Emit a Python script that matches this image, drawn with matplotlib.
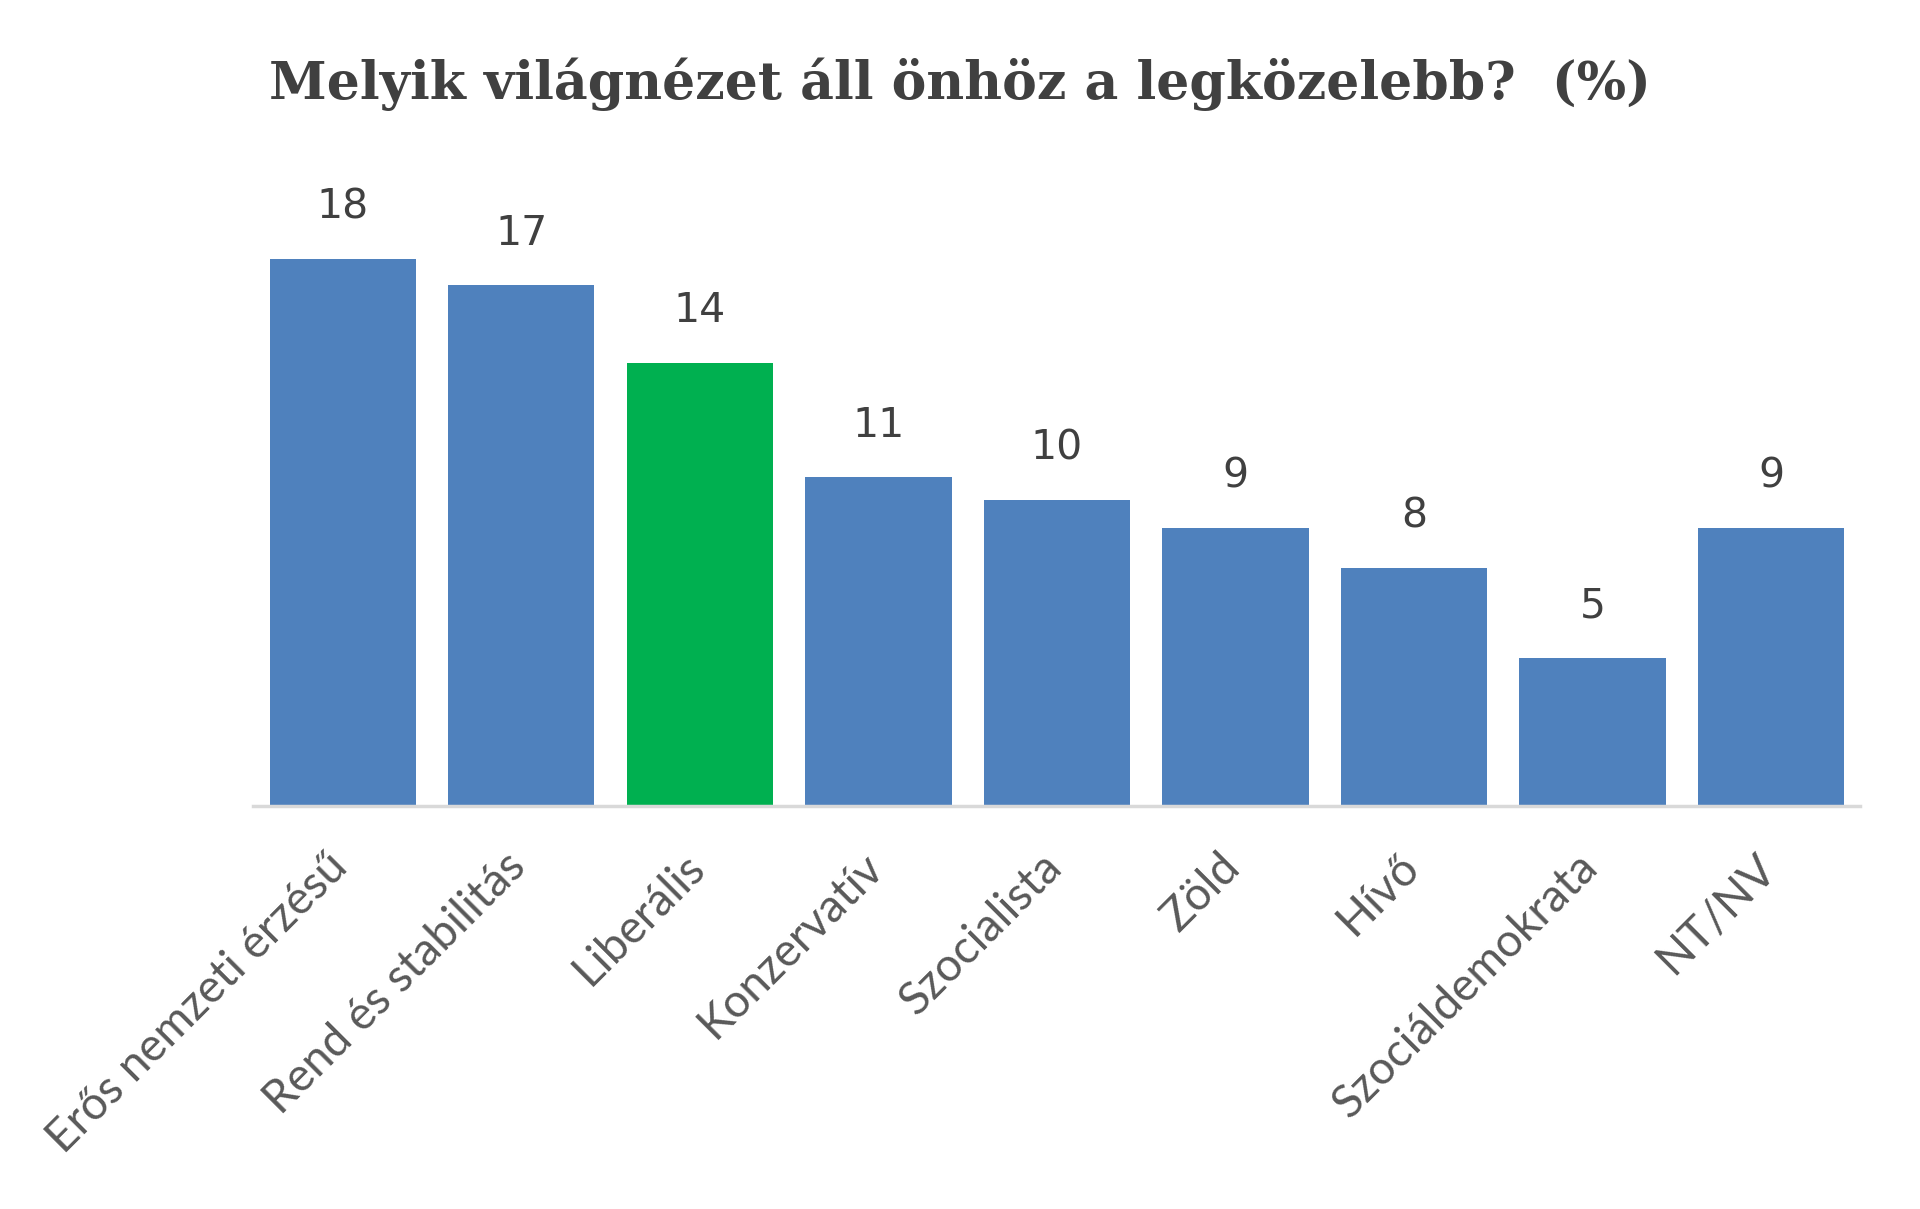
import matplotlib
matplotlib.use("Agg")
import matplotlib.pyplot as plt
from matplotlib.transforms import ScaledTranslation

# Adatok (oszlopmagasságok a képről becsülve, címkék a feliratok szerint)
kategoriak = ["Erős nemzeti érzésű", "Rend és stabilitás", "Liberális", "Konzervatív",
              "Szocialista", "Zöld", "Hívő", "Szociáldemokrata", "NT/NV"]
ertekek = [17.7, 16.85, 14.35, 10.65, 9.9, 9.0, 7.7, 4.8, 9.0]
cimkek = [18, 17, 14, 11, 10, 9, 8, 5, 9]
szinek = ["#4f81bd", "#4f81bd", "#00b050", "#4f81bd", "#4f81bd",
          "#4f81bd", "#4f81bd", "#4f81bd", "#4f81bd"]

fig = plt.figure(figsize=(19.2, 12.09), dpi=100)
ax = fig.add_axes([0.132, 0.3333, 0.837, 0.5112])

x = range(len(kategoriak))
bars = ax.bar(x, ertekek, width=0.82, color=szinek)

# Értékcímkék
for b, v, c in zip(bars, ertekek, cimkek):
    ax.annotate(str(c), (b.get_x() + b.get_width() / 2, v), xytext=(0, 29),
                textcoords="offset points", ha="center", va="baseline",
                fontsize=29.5, color="#404040", family="DejaVu Sans")

ax.set_xlim(-0.5, len(kategoriak) - 0.5)
ax.set_ylim(0, 20)
ax.set_xticks(list(x))
ax.set_xticklabels(kategoriak, rotation=45, ha="right", rotation_mode="anchor",
                   fontsize=33, color="#595959", family="Lato")
ax.tick_params(axis="x", length=0, pad=14)
eltolas = ScaledTranslation(-0.17, -0.20, fig.dpi_scale_trans)
for lbl in ax.get_xticklabels():
    lbl.set_transform(lbl.get_transform() + eltolas)
ax.set_yticks([])
for s in ["top", "right", "left"]:
    ax.spines[s].set_visible(False)
ax.spines["bottom"].set_color("#d9d9d9")
ax.spines["bottom"].set_linewidth(2.5)

fig.text(0.5, 0.930, "Melyik világnézet áll önhöz a legközelebb?  (%)",
         ha="center", va="center", fontsize=37.5, fontweight="bold",
         color="#404040", family="DejaVu Serif")

fig.savefig("out.png", dpi=100, facecolor="white")
